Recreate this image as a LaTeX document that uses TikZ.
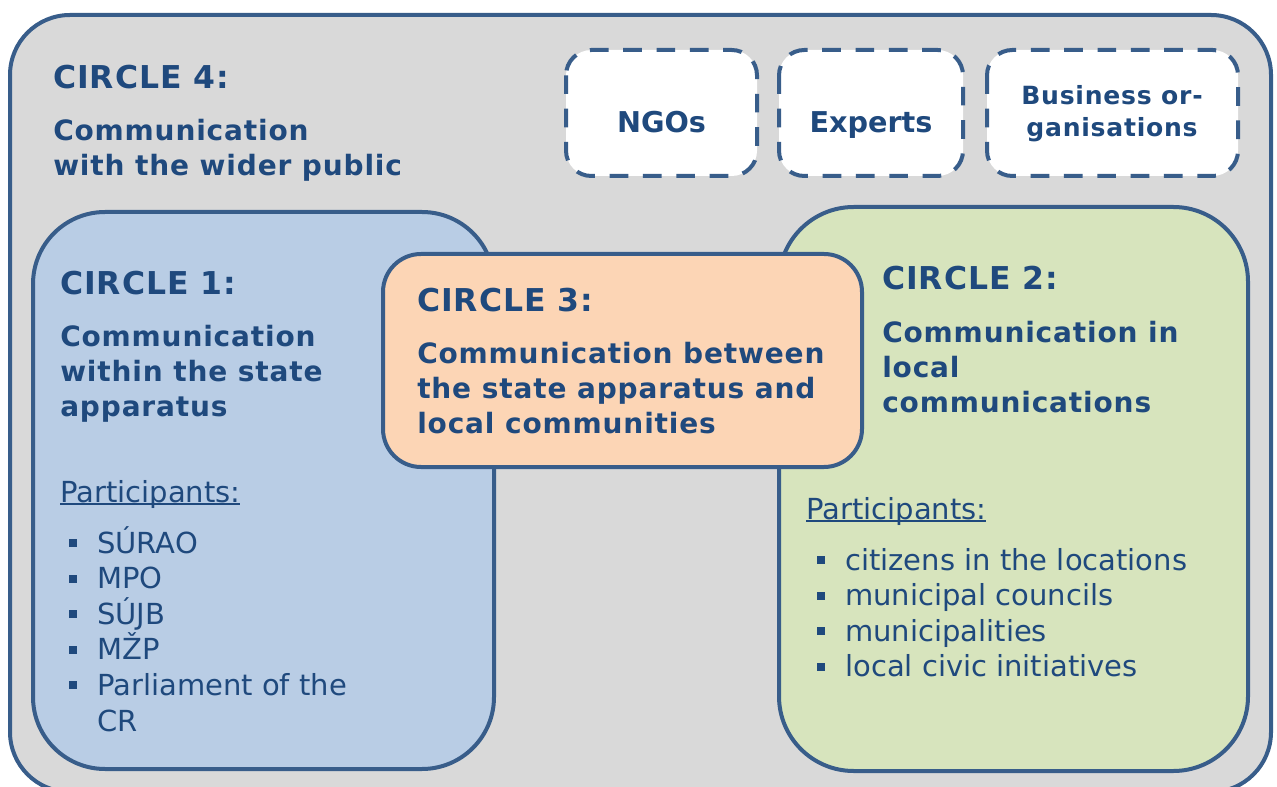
\documentclass[tikz,border=0pt]{standalone}
\usepackage{fontspec}
\setmainfont{DejaVu Sans}
\usetikzlibrary{positioning}

\definecolor{linecol}{HTML}{385D8A}
\definecolor{textcol}{HTML}{1F497D}
\definecolor{greyfill}{HTML}{D9D9D9}
\definecolor{bluefill}{HTML}{B9CDE5}
\definecolor{greenfill}{HTML}{D7E4BD}
\definecolor{orangefill}{HTML}{FCD5B5}

% square bullet and underlined caption
\newcommand{\sqbullet}{\makebox[21pt][l]{\raisebox{4.5pt}{\rule{6pt}{6pt}}}}
\newcommand{\ulined}[1]{\setbox0\hbox{#1}\rlap{\rule[-2.2pt]{\wd0}{1.2pt}}\box0}

\tikzset{
  ring/.style={draw=linecol,line width=3pt},
  groupbox/.style={draw=linecol,line width=3pt,fill=white,
                   dash pattern=on 14pt off 11pt,rounded corners=19pt},
  heading/.style={anchor=base west,inner sep=0pt,text=textcol,
                  font=\bfseries\fontsize{23.6}{28}\selectfont\addfontfeatures{LetterSpace=3}},
  bodytext/.style={anchor=base west,inner sep=0pt,text=textcol,
                   font=\bfseries\fontsize{21}{26.25}\selectfont\addfontfeatures{LetterSpace=3}},
  listtext/.style={anchor=base west,inner sep=0pt,text=textcol,
                   font=\fontsize{21.75}{26.7}\selectfont},
  grouptext/.style={anchor=base,inner sep=0pt,text=textcol,
                    font=\bfseries\fontsize{21.5}{24}\selectfont}
}

\begin{document}
\begin{tikzpicture}[x=0.75pt,y=-0.75pt]
  \useasboundingbox (0,0) rectangle (1277,787);

  % circle 4 (wider public) and its groups
  \draw[ring,fill=greyfill,rounded corners=45pt] (10,15) rectangle (1271,792);
  \draw[groupbox] (566,50) rectangle (757,176);
  \draw[groupbox] (779,50) rectangle (963,176);
  \draw[groupbox] (987,50) rectangle (1238,176);

  % circles 1, 2 and the overlapping circle 3
  \draw[ring,fill=bluefill,rounded corners=54pt] (33,212) rectangle (494,769);
  \draw[ring,fill=greenfill,rounded corners=56pt] (779,207) rectangle (1248,771);
  \draw[ring,fill=orangefill,rounded corners=28.5pt] (383,254) rectangle (862,467);

  \node[heading] (c4head) at (53,89) {CIRCLE 4:};
  \node[bodytext] (c4text) at (53,141) {\parbox[t]{12cm}{Communication\\with the wider public}};

  \node[grouptext] (ngos) at (661.5,133) {NGOs};
  \node[grouptext] (experts) at (871,133) {Experts};
  \node[grouptext,anchor=base,font=\bfseries\fontsize{18.8}{24}\selectfont\addfontfeatures{LetterSpace=3}]
       (business) at (1112,105) {\parbox[t]{7cm}{\centering Business or-\\ganisations}};

  \node[heading] (c1head) at (60,295) {CIRCLE 1:};
  \node[bodytext] (c1text) at (60,347) {\parbox[t]{10cm}{Communication\\within the state\\apparatus}};
  \node[listtext] (c1part) at (60,502) {\ulined{Participants:}};
  \node[listtext] (c1list) at (69,553) {\parbox[t]{10cm}{%
      \sqbullet SÚRAO\\
      \sqbullet MPO\\
      \sqbullet SÚJB\\
      \sqbullet MŽP\\
      \sqbullet Parliament of the\\
      \hspace*{21pt}CR}};

  \node[heading] (c2head) at (882,290) {CIRCLE 2:};
  \node[bodytext] (c2text) at (882,343) {\parbox[t]{10cm}{Communication in\\local\\communications}};
  \node[listtext] (c2part) at (806,519) {\ulined{Participants:}};
  \node[listtext] (c2list) at (817,570) {\parbox[t]{10cm}{%
      \sqbullet citizens in the locations\\
      \sqbullet municipal councils\\
      \sqbullet municipalities\\
      \sqbullet local civic initiatives}};

  \node[heading] (c3head) at (417,312) {CIRCLE 3:};
  \node[bodytext] (c3text) at (417,364) {\parbox[t]{12cm}{Communication between\\the state apparatus and\\local communities}};
\end{tikzpicture}
\end{document}
